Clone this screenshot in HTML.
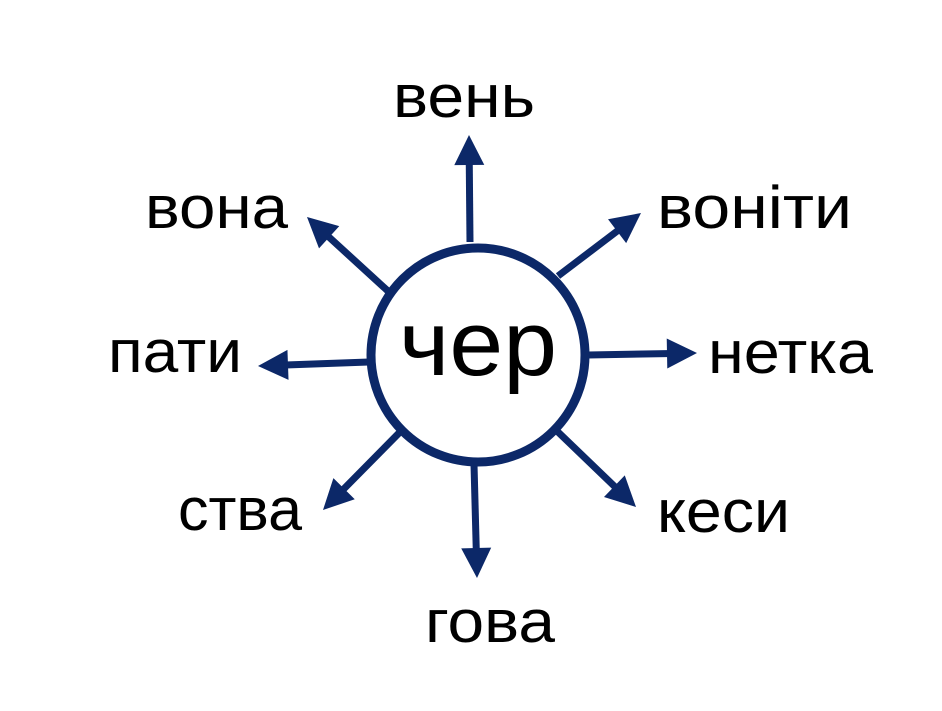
<!DOCTYPE html>
<html><head><meta charset="utf-8"><style>
html,body{margin:0;padding:0;background:#fff;}
svg{display:block;}
text{font-family:"Liberation Sans","DejaVu Sans",sans-serif;fill:#000;}
</style></head><body>
<svg id="s" width="942" height="711" viewBox="0 0 942 711" xmlns="http://www.w3.org/2000/svg">
<rect width="942" height="711" fill="#fff"/>
<circle cx="478" cy="355" r="107" fill="#fff" stroke="#0c2868" stroke-width="9"/>
<text x="478" y="375" font-size="92" text-anchor="middle" textLength="158" lengthAdjust="spacingAndGlyphs">чер</text>
<text x="393" y="117" font-size="60" textLength="142" lengthAdjust="spacingAndGlyphs">вень</text>
<text x="145" y="228" font-size="60" textLength="143" lengthAdjust="spacingAndGlyphs">вона</text>
<text x="657" y="228" font-size="60" textLength="195" lengthAdjust="spacingAndGlyphs">воніти</text>
<text x="108" y="372" font-size="60" textLength="134" lengthAdjust="spacingAndGlyphs">пати</text>
<text x="708" y="373" font-size="60" textLength="165" lengthAdjust="spacingAndGlyphs">нетка</text>
<text x="178" y="530" font-size="60" textLength="124" lengthAdjust="spacingAndGlyphs">ства</text>
<text x="657" y="532" font-size="60" textLength="133" lengthAdjust="spacingAndGlyphs">кеси</text>
<text x="425" y="642" font-size="60" textLength="130" lengthAdjust="spacingAndGlyphs">гова</text>
</svg>
<script>
var s=document.getElementById('s'),NS='http://www.w3.org/2000/svg';
var A=[[470,242,469,135],[558,276,641,213],[588,355,697,353],[558,432,636,507],
[474,464,477,578],[400,432,323,510],[369,362,258,366],[389,292,307,217]];
A.forEach(function(a){
 var x1=a[0],y1=a[1],x2=a[2],y2=a[3],dx=x2-x1,dy=y2-y1,L=Math.hypot(dx,dy),ux=dx/L,uy=dy/L;
 var bx=x2-ux*30,by=y2-uy*30,px=-uy,py=ux;
 var l=document.createElementNS(NS,'line');
 l.setAttribute('x1',x1);l.setAttribute('y1',y1);l.setAttribute('x2',x2-ux*24);l.setAttribute('y2',y2-uy*24);
 l.setAttribute('stroke','#0c2868');l.setAttribute('stroke-width','7');s.appendChild(l);
 var p=document.createElementNS(NS,'polygon');
 p.setAttribute('points',x2+','+y2+' '+(bx+px*15)+','+(by+py*15)+' '+(bx-px*15)+','+(by-py*15));
 p.setAttribute('fill','#0c2868');s.appendChild(p);
});
</script>
</body></html>
